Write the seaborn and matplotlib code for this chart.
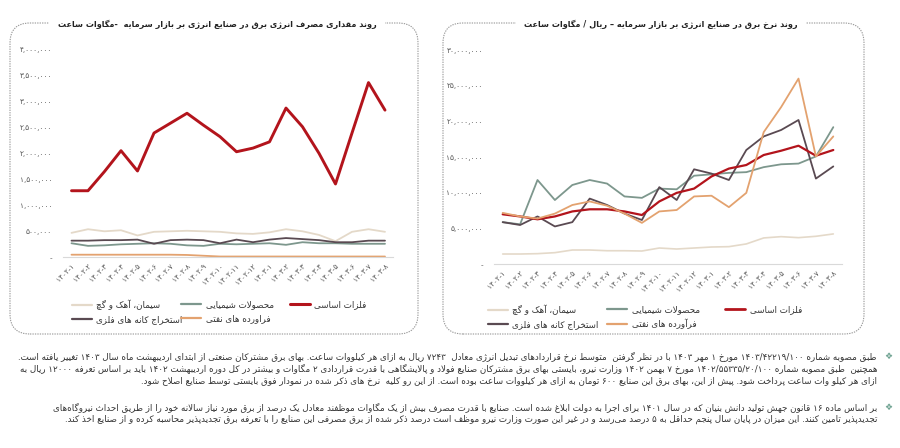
import re
import matplotlib
matplotlib.use('Agg')
import matplotlib.pyplot as plt
import matplotlib.patches as mpatches
from matplotlib.lines import Line2D
from matplotlib.ticker import FuncFormatter, MultipleLocator
import seaborn as sns

# ---------------- data ----------------
months = ['۱۴۰۲-۱', '۱۴۰۲-۲', '۱۴۰۲-۳', '۱۴۰۲-۴', '۱۴۰۲-۵', '۱۴۰۲-۶', '۱۴۰۲-۷',
          '۱۴۰۲-۸', '۱۴۰۲-۹', '۱۴۰۲-۱۰', '۱۴۰۲-۱۱', '۱۴۰۲-۱۲', '۱۴۰۳-۱', '۱۴۰۳-۲',
          '۱۴۰۳-۳', '۱۴۰۳-۴', '۱۴۰۳-۵', '۱۴۰۳-۶', '۱۴۰۳-۷', '۱۴۰۳-۸']

# consumption (MWh)
cons_metals = [1280000, 1280000, 1650000, 2050000, 1660000, 2390000, 2580000, 2770000, 2540000, 2320000,
               2030000, 2100000, 2220000, 2870000, 2510000, 2000000, 1410000, 2390000, 3360000, 2830000]
cons_cement = [470000, 540000, 500000, 520000, 420000, 490000, 500000, 510000, 500000, 490000,
               460000, 450000, 480000, 540000, 500000, 430000, 310000, 490000, 540000, 490000]
cons_chem = [270000, 220000, 230000, 250000, 260000, 270000, 260000, 230000, 220000, 260000,
             250000, 260000, 270000, 240000, 290000, 270000, 270000, 260000, 260000, 260000]
cons_mining = [320000, 320000, 330000, 330000, 340000, 260000, 330000, 340000, 330000, 270000,
               340000, 290000, 340000, 370000, 350000, 330000, 290000, 290000, 320000, 320000]
cons_petro = [50000, 50000, 50000, 50000, 50000, 50000, 50000, 45000, 30000, 15000,
              15000, 15000, 15000, 15000, 15000, 15000, 15000, 15000, 15000, 15000]

# price (rial / MWh)
price_metals = [7.0e6, 6.7e6, 6.3e6, 6.7e6, 7.4e6, 7.7e6, 7.7e6, 7.4e6, 6.9e6, 8.8e6,
                10.0e6, 10.6e6, 12.3e6, 13.4e6, 13.9e6, 15.3e6, 15.9e6, 16.6e6, 15.2e6, 16.0e6]
price_chem = [5.9e6, 5.6e6, 11.8e6, 9.0e6, 11.1e6, 11.8e6, 11.3e6, 9.5e6, 9.3e6, 10.6e6,
              10.5e6, 12.4e6, 12.6e6, 12.8e6, 12.9e6, 13.6e6, 14.0e6, 14.1e6, 15.1e6, 19.2e6]
price_mining = [5.9e6, 5.5e6, 6.7e6, 5.3e6, 5.9e6, 9.2e6, 8.3e6, 7.1e6, 6.2e6, 10.8e6,
                9.0e6, 13.3e6, 12.7e6, 11.8e6, 16.0e6, 17.9e6, 18.8e6, 20.2e6, 12.0e6, 13.7e6]
price_petro = [7.2e6, 6.7e6, 6.4e6, 7.1e6, 8.3e6, 8.8e6, 8.2e6, 7.1e6, 5.8e6, 7.4e6,
               7.6e6, 9.5e6, 9.6e6, 8.0e6, 10.0e6, 18.5e6, 22.0e6, 26.0e6, 15.1e6, 17.9e6]
price_cement = [1.44e6, 1.44e6, 1.49e6, 1.63e6, 2.0e6, 2.0e6, 1.9e6, 1.9e6, 1.86e6, 2.28e6,
                2.14e6, 2.28e6, 2.42e6, 2.47e6, 2.85e6, 3.69e6, 3.87e6, 3.73e6, 3.92e6, 4.25e6]

left_title = 'روند مقداری مصرف انرژی برق در صنایع انرژی بر بازار سرمایه  -مگاوات ساعت'
right_title = 'روند نرخ برق در صنایع انرژی بر بازار سرمایه – ریال / مگاوات ساعت'

lbl_cement = 'سیمان، آهک و گچ'
lbl_chem = 'محصولات شیمیایی'
lbl_metals = 'فلزات اساسی'
lbl_mining = 'استخراج کانه های فلزی'
lbl_petro_left = 'فراورده های نفتی'
lbl_petro_right = 'فرآورده های نفتی'

notes = [
    'طبق مصوبه شماره ۱۴۰۳/۴۲۲۱۹/۱۰۰ مورخ ۱ مهر ۱۴۰۳ با در نظر گرفتن  متوسط نرخ قراردادهای تبدیل انرژی معادل  ۷۲۴۳ ریال به ازای هر کیلووات ساعت. بهای برق مشترکان صنعتی از ابتدای اردیبهشت ماه سال ۱۴۰۳ تغییر یافته است.',
    'همچنین  طبق مصوبه شماره ۱۴۰۲/۵۵۳۳۵/۲۰/۱۰۰ مورخ ۷ بهمن ۱۴۰۲ وزارت نیرو، بایستی بهای برق مشترکان صنایع فولاد و پالایشگاهی با قدرت قراردادی ۲ مگاوات و بیشتر در کل دوره اردیبهشت ۱۴۰۲ باید بر اساس تعرفه ۱۲۰۰۰ ریال به',
    'ازای هر کیلو وات ساعت پرداخت شود. پیش از این، بهای برق این صنایع ۶۰۰ تومان به ازای هر کیلووات ساعت بوده است. از این رو کلیه  نرخ های ذکر شده در نمودار فوق بایستی توسط صنایع اصلاح شود.',
    'بر اساس ماده ۱۶ قانون جهش تولید دانش بنیان که در سال ۱۴۰۱ برای اجرا به دولت ابلاغ شده است. صنایع با قدرت مصرف بیش از یک مگاوات موظفند معادل یک درصد از برق مورد نیاز سالانه خود را از طریق احداث نیروگاه\u200cهای',
    'تجدیدپذیر تامین کنند. این میزان در پایان سال پنجم حداقل به ۵ درصد می\u200cرسد و در غیر این صورت وزارت نیرو موظف است درصد ذکر شده از برق مصرفی این صنایع را با تعرفه برق تجدیدپذیر محاسبه کرده و از صنایع اخذ کند.',
]

# ---------------- Persian shaping + bidi ----------------
_BASES = [('\u0621', 0xFE80, 1), ('\u0622', 0xFE81, 2), ('\u0623', 0xFE83, 2), ('\u0624', 0xFE85, 2),
          ('\u0625', 0xFE87, 2), ('\u0626', 0xFE89, 4), ('\u0627', 0xFE8D, 2), ('\u0628', 0xFE8F, 4),
          ('\u0629', 0xFE93, 2), ('\u062A', 0xFE95, 4), ('\u062B', 0xFE99, 4), ('\u062C', 0xFE9D, 4),
          ('\u062D', 0xFEA1, 4), ('\u062E', 0xFEA5, 4), ('\u062F', 0xFEA9, 2), ('\u0630', 0xFEAB, 2),
          ('\u0631', 0xFEAD, 2), ('\u0632', 0xFEAF, 2), ('\u0633', 0xFEB1, 4), ('\u0634', 0xFEB5, 4),
          ('\u0635', 0xFEB9, 4), ('\u0636', 0xFEBD, 4), ('\u0637', 0xFEC1, 4), ('\u0638', 0xFEC5, 4),
          ('\u0639', 0xFEC9, 4), ('\u063A', 0xFECD, 4), ('\u0641', 0xFED1, 4), ('\u0642', 0xFED5, 4),
          ('\u0643', 0xFED9, 4), ('\u0644', 0xFEDD, 4), ('\u0645', 0xFEE1, 4), ('\u0646', 0xFEE5, 4),
          ('\u0647', 0xFEE9, 4), ('\u0648', 0xFEED, 2), ('\u0649', 0xFEEF, 2), ('\u064A', 0xFEF1, 4),
          ('\u067E', 0xFB56, 4), ('\u0686', 0xFB7A, 4), ('\u0698', 0xFB8A, 2), ('\u06A9', 0xFB8E, 4),
          ('\u06AF', 0xFB92, 4), ('\u06CC', 0xFBFC, 4)]
FORMS = {}
for ch, base, n in _BASES:
    f = [chr(base + k) for k in range(n)] + [None] * (4 - n)
    FORMS[ch] = f
LAMALEF = {'\u0627': ('\uFEFB', '\uFEFC'), '\u0622': ('\uFEF5', '\uFEF6'),
           '\u0623': ('\uFEF7', '\uFEF8'), '\u0625': ('\uFEF9', '\uFEFA')}


def _jt(c):
    if c in FORMS:
        f = FORMS[c]
        if f[2]:
            return 'D'
        if f[1]:
            return 'R'
        return 'U'
    return 'U'


def shape(s):
    out = []
    n = len(s)
    i = 0
    while i < n:
        c = s[i]
        if c not in FORMS:
            if c != '\u200c':
                out.append(c)
            i += 1
            continue
        prev_j = i > 0 and _jt(s[i - 1]) == 'D'
        if c == '\u0644' and i + 1 < n and s[i + 1] in LAMALEF:
            lig = LAMALEF[s[i + 1]]
            out.append(lig[1] if prev_j else lig[0])
            i += 2
            continue
        next_j = i + 1 < n and _jt(s[i + 1]) in ('D', 'R') and _jt(c) == 'D'
        iso, fin, ini, med = FORMS[c]
        if prev_j and next_j:
            out.append(med)
        elif prev_j:
            out.append(fin or iso)
        elif next_j:
            out.append(ini)
        else:
            out.append(iso)
        i += 1
    return ''.join(out)


def fa(s):
    s = shape(s)
    toks = re.findall(r'[0-9\u06F0-\u06F9]+(?:[/,.:\-][0-9\u06F0-\u06F9]+)*|[A-Za-z]+|.', s, flags=re.S)
    mirror = {'(': ')', ')': '(', '[': ']', ']': '['}
    return ''.join(mirror.get(t, t) for t in toks[::-1])


def fa_digits(v):
    if v == 0:
        return '-'
    return f'{int(round(v)):,}'.translate(str.maketrans('0123456789', '۰۱۲۳۴۵۶۷۸۹'))


# ---------------- style ----------------
sns.set_theme(style='white')
plt.rcParams['font.family'] = ['DejaVu Sans']
plt.rcParams['axes.unicode_minus'] = False

C_RED = '#B3141C'
C_CEM = '#E4D9C9'
C_CHEM = '#7D978D'
C_MIN = '#5A4A52'
C_PET = '#E3A26F'
TXT = '#333333'

W, H = 900, 448
fig = plt.figure(figsize=(9, 4.48), dpi=100)
renderer = fig.canvas.get_renderer()


def px_axes(x0, x1, ytop, ybot):
    return fig.add_axes([x0 / W, 1 - ybot / H, (x1 - x0) / W, (ybot - ytop) / H])


def style_axes(ax, ymax, step):
    ax.set_xlim(-0.5, 19.5)
    ax.set_ylim(0, ymax)
    ax.yaxis.set_major_locator(MultipleLocator(step))
    ax.yaxis.set_major_formatter(FuncFormatter(lambda v, p: fa_digits(v)))
    ax.set_xticks(range(len(months)))
    ax.set_xticklabels(months, rotation=45, ha='right', rotation_mode='anchor')
    ax.tick_params(axis='x', length=0, pad=4, labelsize=5.3, labelcolor='#555555')
    ax.tick_params(axis='y', length=0, pad=8, labelsize=5.3, labelcolor='#555555')
    for sp in ['top', 'right', 'left']:
        ax.spines[sp].set_visible(False)
    ax.spines['bottom'].set_color('#d9d9d9')
    ax.spines['bottom'].set_linewidth(0.8)
    ax.set_xlabel('')
    ax.set_ylabel('')
    ax.grid(False)
    ax.set_facecolor('none')


x_idx = list(range(len(months)))

# ---- left chart ----
axL = px_axes(63.25, 393.25, 49.3, 257.3)
left_series = [(cons_cement, C_CEM, 1.3, lbl_cement), (cons_chem, C_CHEM, 1.3, lbl_chem),
               (cons_petro, C_PET, 1.3, lbl_petro_left), (cons_mining, C_MIN, 1.3, lbl_mining),
               (cons_metals, C_RED, 2.1, lbl_metals)]
for vals, col, lw, _ in left_series:
    sns.lineplot(x=x_idx, y=vals, ax=axL, color=col, linewidth=lw, legend=False)
style_axes(axL, 4.0e6, 5.0e5)

# ---- right chart ----
axR = px_axes(494, 842, 50, 264.3)
right_series = [(price_cement, C_CEM, 1.2, lbl_cement), (price_chem, C_CHEM, 1.3, lbl_chem),
                (price_mining, C_MIN, 1.3, lbl_mining), (price_metals, C_RED, 1.6, lbl_metals),
                (price_petro, C_PET, 1.3, lbl_petro_right)]
for vals, col, lw, _ in right_series:
    sns.lineplot(x=x_idx, y=vals, ax=axR, color=col, linewidth=lw, legend=False)
style_axes(axR, 3.0e7, 5.0e6)


# ---- legends (three columns each) ----
def col_legend(entries, x_px, y_px, lw_map):
    handles = [Line2D([], [], color=c, linewidth=lw_map.get(c, 1.6)) for c, _ in entries]
    labels = [fa(t) for _, t in entries]
    fig.legend(handles, labels, loc='upper left', bbox_to_anchor=(x_px / W, 1 - y_px / H),
               frameon=False, fontsize=6.3, handlelength=2.3, handletextpad=0.5,
               labelspacing=0.55, borderpad=0, borderaxespad=0, labelcolor=TXT)


lwL = {C_RED: 2.2}
col_legend([(C_CEM, lbl_cement), (C_MIN, lbl_mining)], 72, 300, lwL)
col_legend([(C_CHEM, lbl_chem), (C_PET, lbl_petro_left)], 181, 300, lwL)
col_legend([(C_RED, lbl_metals)], 290, 300, lwL)
lwR = {C_RED: 2.0}
col_legend([(C_CEM, lbl_cement), (C_MIN, lbl_mining)], 488, 305, lwR)
col_legend([(C_CHEM, lbl_chem), (C_PET, lbl_petro_right)], 607, 305, lwR)
col_legend([(C_RED, lbl_metals)], 725, 305, lwR)

# ---- panel frames ----
for x0, x1 in [(10, 418), (443, 864)]:
    y_top, y_bot = 23, 334
    box = mpatches.FancyBboxPatch((x0 / 100, (H - y_bot) / 100), (x1 - x0) / 100, (y_bot - y_top) / 100,
                                  boxstyle=mpatches.BoxStyle.Round(pad=0, rounding_size=0.2),
                                  transform=fig.dpi_scale_trans, facecolor='none', edgecolor='#9a9a9a',
                                  linewidth=0.8, linestyle=(0, (1.2, 1.0)), zorder=0)
    fig.add_artist(box)


def fit(t, target_px):
    w = t.get_window_extent(renderer).width
    t.set_fontsize(t.get_fontsize() * target_px / w)


tL = fig.text(217 / W, 1 - 24 / H, fa(left_title), ha='center', va='center', fontsize=7,
              fontweight='bold', color='#222222',
              bbox=dict(facecolor='white', edgecolor='none', pad=7), zorder=5)
fit(tL, 320)
tR = fig.text(661 / W, 1 - 24 / H, fa(right_title), ha='center', va='center', fontsize=7,
              fontweight='bold', color='#222222',
              bbox=dict(facecolor='white', edgecolor='none', pad=7), zorder=5)
fit(tR, 275)

# ---- notes ----
note_y = [356, 368.5, 381, 407, 419.5]
texts = []
for line, y in zip(notes, note_y):
    texts.append(fig.text(877 / W, 1 - y / H, fa(line), ha='right', va='center', fontsize=6,
                          color=TXT))
w0 = texts[0].get_window_extent(renderer).width
fs = 6 * 865 / w0
for t in texts:
    t.set_fontsize(fs)
for y in (356, 407):
    fig.text(888 / W, 1 - y / H, '\u2756', ha='center', va='center', fontsize=6.5, color='#6FA392')

fig.savefig('out.png', dpi=100, facecolor='white')
